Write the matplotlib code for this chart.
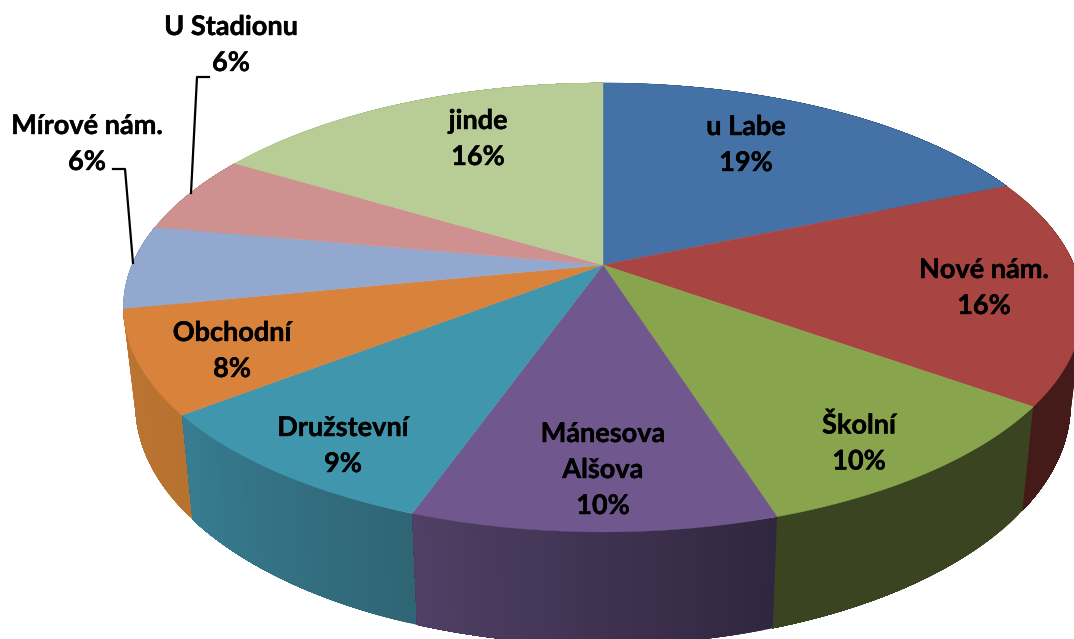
import numpy as np
import matplotlib
matplotlib.use('Agg')
import matplotlib.pyplot as plt
import matplotlib.patheffects as pe
from matplotlib.colors import to_rgb

# Data
names = ['u Labe', 'Nové nám.', 'Školní', 'Mánesova\nAlšova', 'Družstevní',
         'Obchodní', 'Mírové nám.', 'U Stadionu', 'jinde']
shares = [18.6, 16.3, 10.2, 10.3, 9.1, 7.4, 6.0, 5.7, 16.4]
shown_pct = [19, 16, 10, 10, 9, 8, 6, 6, 16]

top_colors = ['#4472A6', '#A84543', '#88A44D', '#70578E', '#4096AD',
              '#D9823B', '#92A8CE', '#CF9190', '#B8CC95']
wall_left = ['#2A4565', '#451B1A', '#3A4420', '#504065', '#377D91',
             '#BC7634', '#7D90B0', '#B27D7C', '#9DAF80']
wall_right = ['#2A4565', '#451B1A', '#3A4420', '#30263F', '#2F6575',
              '#B8722F', '#7D90B0', '#B27D7C', '#9DAF80']

label_xy = [(746, 145), (984, 288), (859, 443), (603, 470), (343, 446),
            (232, 351), (87, 144), (231, 45), (478, 139)]

# Perspective of the pie disc, in pixels
CX, CY = 603, 265
A, B, K = 471, 216.5, 0.189


def project_top(t):
    x = np.sin(t)
    v = -np.cos(t)
    w = 1 - K * v
    return CX + A * x / w, CY + B * v / w


def project_bottom(t):
    x, y = project_top(t)
    return CX + (x - CX) * 0.975, CY + (y - CY) * 1.07 + 94


def draw_walls(ax, edges):
    mids = (edges[:-1] + edges[1:]) / 2
    # far slices first, the near ones paint over them
    for i in np.argsort(-np.cos(mids)):
        steps = np.linspace(edges[i], edges[i + 1], 41)
        c0 = np.array(to_rgb(wall_right[i]))
        c1 = np.array(to_rgb(wall_left[i]))
        # each strip runs to the slice end, so no seams show between strips
        for j in range(40):
            ts = np.linspace(steps[j], edges[i + 1], 60)
            xt, yt = project_top(ts)
            xb, yb = project_bottom(ts)
            col = c0 + (c1 - c0) * (j + 0.5) / 40
            ax.fill(np.r_[xt, xb[::-1]], np.r_[yt, yb[::-1]], color=col, lw=0, zorder=1)


def draw_top(ax, edges):
    for i in range(len(shares)):
        ts = np.linspace(edges[i], edges[i + 1], 120)
        xs, ys = project_top(ts)
        ax.fill(np.r_[CX, xs], np.r_[CY, ys], color=top_colors[i], lw=0.3, zorder=2)


def main():
    plt.rcParams['font.family'] = ['Lato', 'DejaVu Sans']
    fig = plt.figure(figsize=(10.74, 6.39), dpi=100)
    ax = fig.add_axes([0, 0, 1, 1])
    ax.set_xlim(0, 1074)
    ax.set_ylim(639, 0)
    ax.axis('off')

    edges = np.r_[0, np.cumsum(shares)] / np.sum(shares) * 2 * np.pi
    draw_walls(ax, edges)
    draw_top(ax, edges)

    for name, pct, (x, y) in zip(names, shown_pct, label_xy):
        ax.text(x, y, f'{name}\n{pct}%', ha='center', va='center', fontsize=19.5,
                fontweight='bold', color='black', linespacing=1.6, zorder=4,
                path_effects=[pe.withStroke(linewidth=0.3, foreground='black')])

    # Leader lines of the two outside labels
    ax.plot([113, 125, 133], [169, 169, 263], color='black', lw=1.6, zorder=3)
    ax.plot([209, 197, 191], [77, 77, 193], color='black', lw=1.6, zorder=3)

    fig.savefig('out.png', dpi=100)


if __name__ == "__main__":
    main()
